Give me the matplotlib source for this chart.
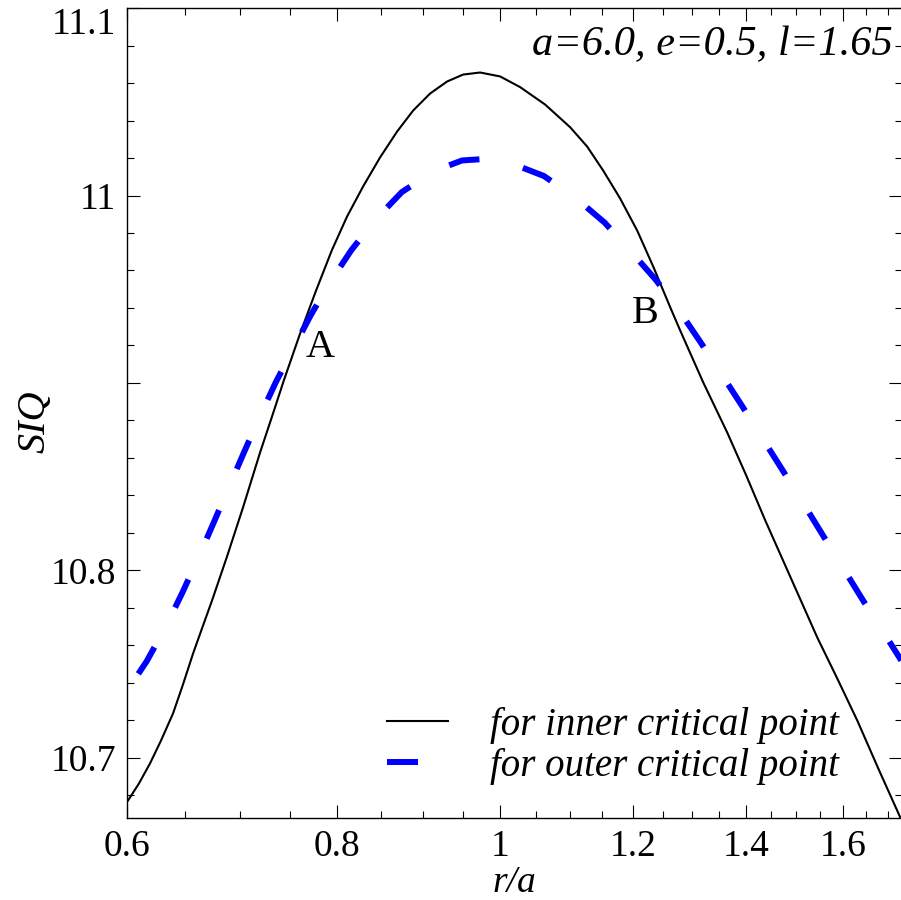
import matplotlib
matplotlib.use("Agg")
import matplotlib.pyplot as plt
from matplotlib.ticker import FixedLocator, NullFormatter

plt.rcParams["font.family"] = ["Liberation Serif", "DejaVu Serif"]

# ---------------------------------------------------------------------------
# data
# ---------------------------------------------------------------------------
r_inner = [0.6008, 0.6099, 0.6192, 0.6286, 0.6390, 0.6478, 0.6568, 0.6649,
           0.6741, 0.6881, 0.7033, 0.7199, 0.7318, 0.7437, 0.7605, 0.7773,
           0.7942, 0.8110, 0.8290, 0.8485, 0.8685, 0.8878, 0.9087, 0.9301,
           0.9507, 0.9731, 1.0001, 1.0279, 1.0637, 1.1008, 1.1267, 1.1517,
           1.1788, 1.2066, 1.2334, 1.2624, 1.2798, 1.3208, 1.3649, 1.4009,
           1.4379, 1.5023, 1.5440, 1.5869, 1.6310, 1.6786, 1.7299]
siq_inner = [10.6773, 10.6864, 10.6971, 10.7093, 10.7237, 10.7392, 10.7557,
             10.7691, 10.7840, 10.8075, 10.8336, 10.8629, 10.8821, 10.9013,
             10.9264, 10.9493, 10.9707, 10.9888, 11.0048, 11.0203, 11.0341,
             11.0453, 11.0544, 11.0608, 11.0645, 11.0656, 11.0635, 11.0578,
             11.0485, 11.0364, 11.0261, 11.0133, 10.9984, 10.9813, 10.9621,
             10.9404, 10.9280, 10.9003, 10.8736, 10.8507, 10.8267, 10.7883,
             10.7643, 10.7424, 10.7200, 10.6944, 10.6683]

r_outer = [0.6094, 0.6164, 0.6321, 0.6468, 0.6611, 0.6753, 0.6893, 0.7040,
           0.7194, 0.7356, 0.7532, 0.7718, 0.7924, 0.8157, 0.8431, 0.8741,
           0.9139, 0.9494, 0.9798, 1.0105, 1.0619, 1.1088, 1.1541, 1.1956,
           1.2376, 1.2777, 1.3163, 1.3543, 1.3933, 1.4330, 1.4738, 1.5153,
           1.5574, 1.6006, 1.6451, 1.6929, 1.7323]
siq_outer = [10.7449, 10.7516, 10.7693, 10.7876, 10.8062, 10.8251, 10.8437,
             10.8627, 10.8818, 10.9004, 10.9182, 10.9363, 10.9538, 10.9708,
             10.9871, 11.0018, 11.0131, 11.0187, 11.0195, 11.0179, 11.0104,
             10.9988, 10.9855, 10.9704, 10.9551, 10.9387, 10.9216, 10.9047,
             10.8876, 10.8702, 10.8529, 10.8356, 10.8182, 10.8009, 10.7836,
             10.7662, 10.7520]

x_major = [0.6, 0.8, 1.0, 1.2, 1.4, 1.6]
x_major_labels = ["0.6", "0.8", "1", "1.2", "1.4", "1.6"]
x_minor = [0.65, 0.7, 0.75, 0.85, 0.9, 0.95, 1.05, 1.1, 1.15, 1.25, 1.3,
           1.35, 1.45, 1.5, 1.55, 1.65, 1.7]
y_major = [10.7, 10.8, 10.9, 11.0, 11.1]
y_major_labels = ["10.7", "10.8", "", "11", "11.1"]
y_minor = [10.68, 10.72, 10.74, 10.76, 10.78, 10.82, 10.84, 10.86, 10.88,
           10.92, 10.94, 10.96, 10.98, 11.02, 11.04, 11.06, 11.08]

params_text = "a=6.0, e=0.5, l=1.65"
label_inner = "for inner critical point"
label_outer = "for outer critical point"

# ---------------------------------------------------------------------------
fig = plt.figure(figsize=(9.01, 9.0), dpi=100)
ax = fig.add_axes([127 / 901, 82 / 900, 775 / 901, 810 / 900])

ax.plot(r_inner, siq_inner, color="black", lw=1.5, label=label_inner)
ax.plot(r_outer, siq_outer, color="#0000ff", lw=4.3,
        linestyle=(0, (5.2, 7.5)), label=label_outer)

ax.set_xscale("log")
ax.set_xlim(0.6, 1.734)
ax.set_ylim(10.668, 11.1)

ax.xaxis.set_major_locator(FixedLocator(x_major))
ax.xaxis.set_minor_locator(FixedLocator(x_minor))
ax.set_xticklabels(x_major_labels)
ax.xaxis.set_minor_formatter(NullFormatter())
ax.yaxis.set_major_locator(FixedLocator(y_major))
ax.yaxis.set_minor_locator(FixedLocator(y_minor))
ax.set_yticklabels(y_major_labels)

ax.tick_params(which="both", direction="in", top=True, right=True,
               width=0.8, labelsize=27)
ax.tick_params(which="major", length=9.4)
ax.tick_params(which="minor", length=4.7)
ax.tick_params(axis="x", pad=8)
ax.tick_params(axis="y", pad=8)
for sp in ax.spines.values():
    sp.set_linewidth(1.0)

# top label sits inside the frame like in the original
for lab in ax.get_yticklabels():
    if lab.get_text() == "11.1":
        lab.set_va("top")

ax.set_xlabel("r/a", fontsize=27, fontstyle="italic", va="center")
ax.xaxis.set_label_coords(0.5, -0.0805)
ax.set_ylabel("SIQ", fontsize=29, fontstyle="italic", va="center")
ax.yaxis.set_label_coords(-0.1187, 0.489)

ax.text(0.988, 0.954, params_text, transform=ax.transAxes, ha="right",
        va="center", fontsize=30.5, fontstyle="italic")
ax.text(0.7816, 10.919, "A", fontsize=29, ha="center", va="center")
ax.text(1.2205, 10.937, "B", fontsize=29, ha="center", va="center")

ax.legend(loc="upper left", bbox_to_anchor=(0.3355, 0.137),
          frameon=False, prop={"style": "italic", "size": 28},
          handlelength=1.57, handletextpad=1.08, labelspacing=0.1,
          borderpad=0, borderaxespad=0)

fig.savefig("out.png", dpi=100)
